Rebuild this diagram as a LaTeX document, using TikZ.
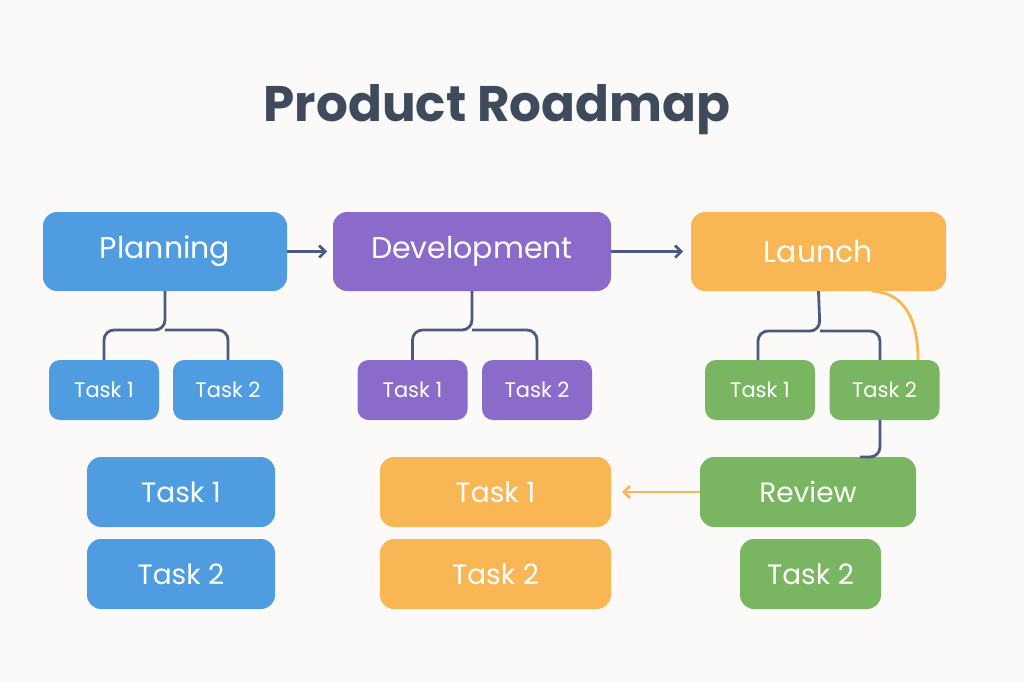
\documentclass[tikz,border=0pt]{standalone}
\usepackage{fontspec}
\setmainfont{Poppins}
\usetikzlibrary{arrows.meta}
\definecolor{bg}{HTML}{FBFAF8}
\definecolor{ttl}{HTML}{3F4A5C}
\definecolor{cb}{HTML}{4F9DE0}
\definecolor{cp}{HTML}{8A6BC9}
\definecolor{co}{HTML}{F8B655}
\definecolor{cg}{HTML}{7AB661}
\definecolor{ln}{HTML}{4A5A80}
\begin{document}
\begin{tikzpicture}[x=1pt,y=-1pt,
 box/.style={rounded corners=14pt,text=white,inner sep=0pt},
 big/.style={box,font=\fontsize{30}{30}\selectfont},
 sm/.style={box,rounded corners=11pt,font=\fontsize{21}{21}\selectfont,minimum width=110pt,minimum height=60pt},
 lg/.style={box,font=\fontsize{28}{28}\selectfont,minimum height=70pt},
 tree/.style={draw=ln,line width=2.8pt,rounded corners=10pt},
 arr/.style={draw=ln,line width=2.8pt,-{Straight Barb[length=6pt,width=12pt]}}]
\fill[bg] (0,0) rectangle (1024,683);
\node[text=ttl,font=\fontsize{50}{50}\selectfont\bfseries] (title) at (497,110) {Product Roadmap};
\node[big,fill=cb,minimum width=244pt,minimum height=79pt] (plan) at (165,251.5) {Planning};
\node[big,fill=cp,minimum width=278pt,minimum height=79pt] (dev) at (472,251.5) {Development};
\node[big,fill=co,minimum width=255pt,minimum height=79pt] (lau) at (818.5,251.5) {Launch};
\draw[arr] (plan.east) -- ++(40,0) coordinate (a1);
\draw[arr] (dev.east) -- ++(72,0) coordinate (a2);
\node[sm,fill=cb] (b1) at (104,390) {Task 1};
\node[sm,fill=cb] (b2) at (228,390) {Task 2};
\node[sm,fill=cp] (p1) at (412.5,390) {Task 1};
\node[sm,fill=cp] (p2) at (537,390) {Task 2};
\node[sm,fill=cg] (g1) at (760,390) {Task 1};
\node[sm,fill=cg] (g2) at (884.5,390) {Task 2};
\draw[tree] (plan.south) -- (165,330) -| (b1.north);
\draw[tree] (165,330) -| (b2.north);
\draw[tree] (dev.south) -- (472,330) -| (p1.north);
\draw[tree] (472,330) -| (p2.north);
\draw[tree] (lau.south) -- (820,331) -| (758,360);
\draw[tree] (820,331) -| (880,360);
\draw[draw=co,line width=2.8pt] (872,291) .. controls (905,293) and (918,320) .. (918,360);
\node[lg,fill=cb,minimum width=188pt] (l1) at (181,492) {Task 1};
\node[lg,fill=cb,minimum width=188pt] (l2) at (181,574) {Task 2};
\node[lg,fill=co,minimum width=231pt] (o1) at (495.5,492) {Task 1};
\node[lg,fill=co,minimum width=231pt] (o2) at (495.5,574) {Task 2};
\node[lg,fill=cg,minimum width=216pt] (rev) at (808,492) {Review};
\node[lg,fill=cg,minimum width=141pt] (g3) at (810.5,574) {Task 2};
\draw[tree] (880,420) |- (860,457);
\draw[draw=co,line width=2.8pt,-{Straight Barb[length=6pt,width=12pt]}] (rev.west) -- (622,492);
\end{tikzpicture}
\end{document}
